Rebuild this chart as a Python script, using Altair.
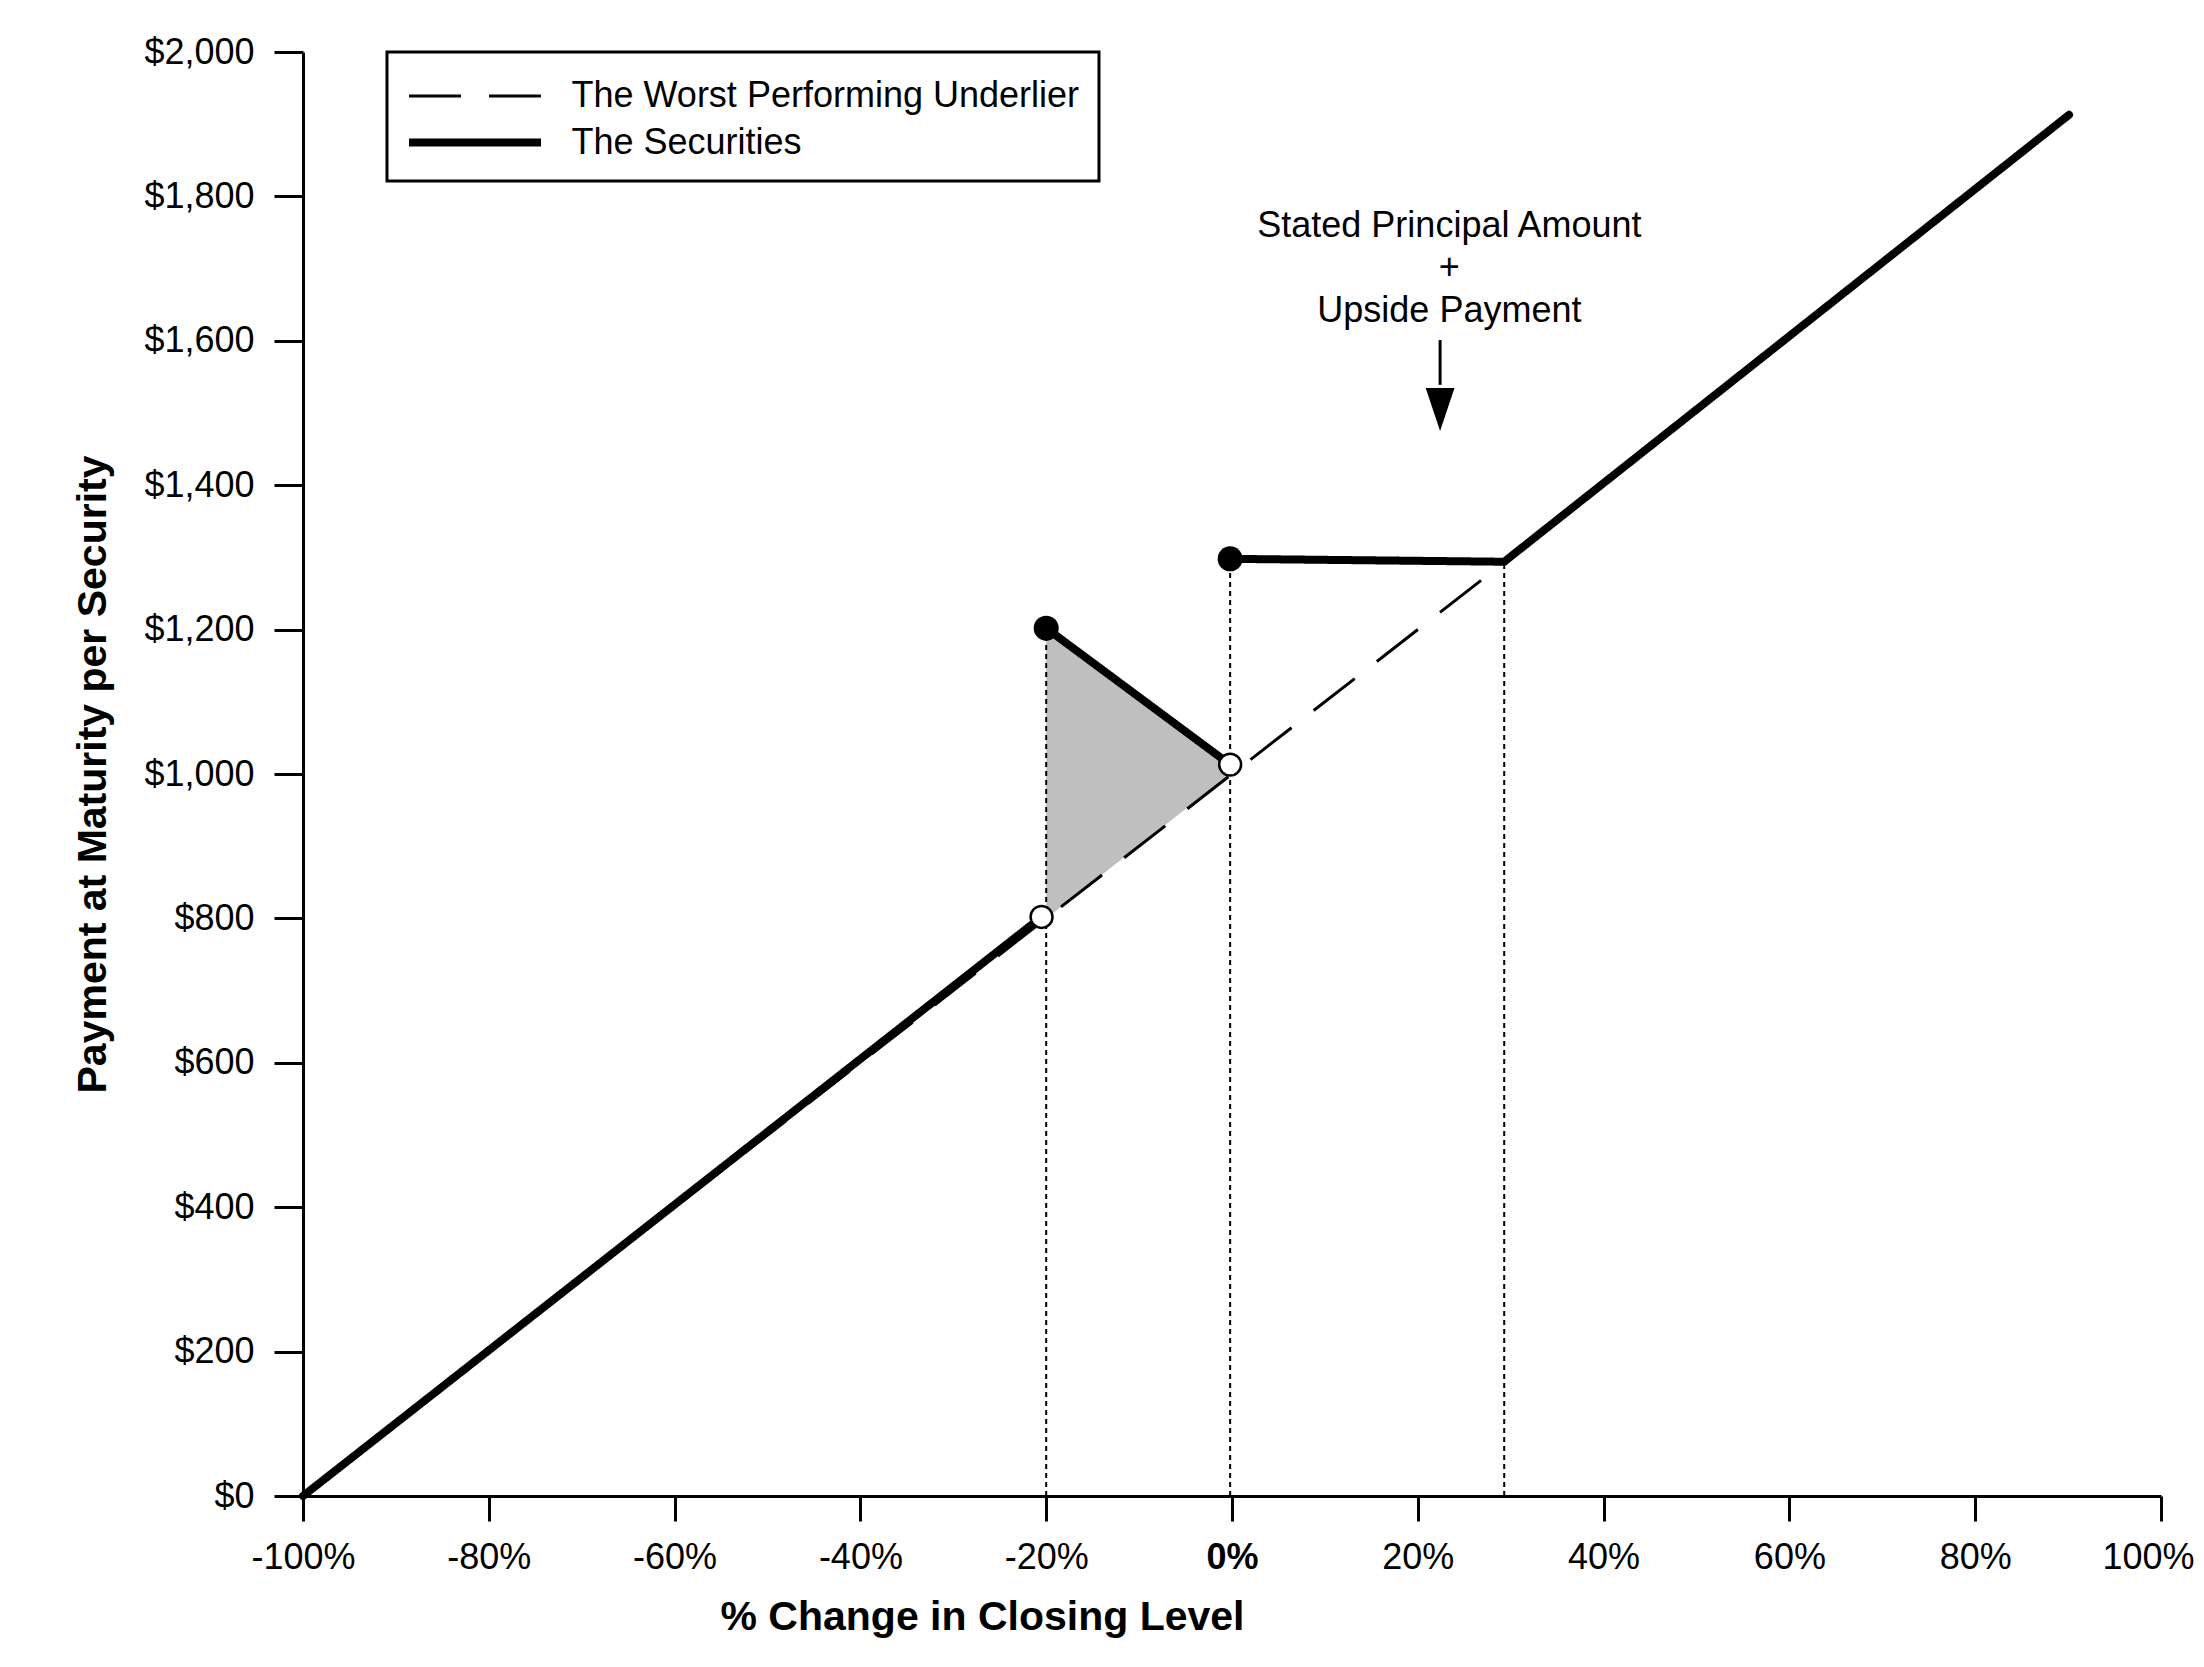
import altair as alt
import pandas as pd

FONT = "Liberation Sans"

# ---- axis ticks ----
x_ticks = [-100, -80, -60, -40, -20, 0, 20, 40, 60, 80, 100]
y_ticks = [0, 200, 400, 600, 800, 1000, 1200, 1400, 1600, 1800, 2000]

series_names = ["The Worst Performing Underlier", "The Securities"]

# ---- The Worst Performing Underlier (dashed) ----
under_x = [-100, 29.3]
under_y = [0, 1293]

# ---- The Securities (solid, piecewise) ----
sec_x = [-100, -20.5, -20, -0.2, -0.2, 29.3, 90.1]
sec_y = [0, 802, 1202, 1013, 1298, 1294, 1913]
sec_seg = [1, 1, 2, 2, 3, 3, 3]

# ---- markers ----
filled_x = [-20, -0.2]
filled_y = [1202, 1298]
open_x = [-20.5, -0.2]
open_y = [802, 1013]

# ---- shaded triangle ----
shade_x = [-20, -0.2]
shade_top = [1202, 1010]
shade_bottom = [800, 1000]

# ---- dotted guides ----
guide_x = [-20, -0.2, 29.3]
guide_top = [1202, 1298, 1294]

# ---- annotation ----
note_lines = ["Stated Principal Amount", "+", "Upside Payment"]
note_x = [23.4, 23.4, 23.4]
note_y = [1744, 1685, 1626]
arrow_x = [22.4]
arrow_top = [1601]
arrow_shaft_end = [1539]
arrow_head = [1505]

under_df = pd.DataFrame({"x": under_x, "y": under_y,
                         "series": series_names[0], "seg": 0})
sec_df = pd.DataFrame({"x": sec_x, "y": sec_y,
                       "series": series_names[1], "seg": sec_seg})
filled_df = pd.DataFrame({"x": filled_x, "y": filled_y})
open_df = pd.DataFrame({"x": open_x, "y": open_y})
shade_df = pd.DataFrame({"x": shade_x, "top": shade_top, "bottom": shade_bottom})
guide_df = pd.DataFrame({"x": guide_x, "top": guide_top, "base": [0] * len(guide_x)})
note_df = pd.DataFrame({"x": note_x, "y": note_y, "t": note_lines})
arrow_df = pd.DataFrame({"x": arrow_x, "top": arrow_top,
                         "end": arrow_shaft_end, "head": arrow_head})

xscale = alt.Scale(domain=[-100, 100], nice=False, zero=False)
yscale = alt.Scale(domain=[0, 2000], nice=False)

x_axis = alt.Axis(
    values=x_ticks, labelExpr="datum.value + '%'", grid=False,
    tickSize=25, tickWidth=3, domainWidth=3, tickColor="black", domainColor="black",
    labelPadding=19, labelFontSize=36, labelFont=FONT, labelColor="black",
    labelFontWeight={"condition": {"test": "datum.value === 0", "value": "bold"}, "value": "normal"},
    labelOffset={"condition": {"test": "datum.value === 100", "value": -13}, "value": 0},
    labelFlush=False, labelOverlap=False,
    title="% Change in Closing Level", titleFont=FONT, titleFontSize=41,
    titleFontWeight="bold", titleColor="black", titleX=679, titleY=101,
    titleAlign="center", titleBaseline="top", titleAnchor="start",
)
y_axis = alt.Axis(
    values=y_ticks, labelExpr="'$' + format(datum.value, ',')", grid=False,
    tickSize=29, tickWidth=3, domainWidth=3, tickColor="black", domainColor="black",
    labelPadding=20, labelFontSize=36, labelFont=FONT, labelColor="black",
    labelFlush=False, labelOverlap=False,
    title="Payment at Maturity per Security", titleFont=FONT, titleFontSize=41,
    titleFontWeight="bold", titleColor="black", titleX=-198, titleY=722,
    titleAngle=270, titleAlign="center", titleBaseline="alphabetic", titleAnchor="start",
)

X = alt.X("x:Q", scale=xscale, axis=x_axis)
Y = alt.Y("y:Q", scale=yscale, axis=y_axis)

leg = alt.Legend(
    title=None, orient="none", legendX=84, legendY=0,
    symbolType="M-2.933,0L2.933,0", symbolSize=2025, symbolOffset=41.5,
    labelOffset=70, padding=20, rowPadding=2,
    labelFont=FONT, labelFontSize=36, labelColor="black", labelLimit=0,
    strokeColor="black", fillColor="white",
)

color_enc = alt.Color("series:N", scale=alt.Scale(domain=series_names, range=["black", "black"]), legend=leg)
dash_enc = alt.StrokeDash("series:N", scale=alt.Scale(domain=series_names, range=[[52, 28], [1, 0]]), legend=leg)
width_enc = alt.StrokeWidth("series:N", scale=alt.Scale(domain=series_names, range=[3, 8]), legend=leg)

shade = alt.Chart(shade_df).mark_area(color="#bfbfbf", opacity=1).encode(
    x=X, y=alt.Y("top:Q", scale=yscale, axis=y_axis), y2="bottom:Q"
)
guides = alt.Chart(guide_df).mark_rule(color="black", strokeWidth=2, strokeDash=[5, 4]).encode(
    x=alt.X("x:Q", scale=xscale, axis=x_axis),
    y=alt.Y("base:Q", scale=yscale, axis=y_axis), y2="top:Q"
)
under = alt.Chart(under_df).mark_line(strokeCap="butt").encode(
    x=X, y=Y, color=color_enc, strokeDash=dash_enc, strokeWidth=width_enc, detail="seg:N"
)
sec = alt.Chart(sec_df).mark_line(strokeCap="round", strokeJoin="miter").encode(
    x=X, y=Y, color=color_enc, strokeDash=dash_enc, strokeWidth=width_enc, detail="seg:N",
    order="seg:Q"
)
opens = alt.Chart(open_df).mark_point(
    shape="circle", filled=True, fill="white", stroke="black", strokeWidth=2.5, size=480, opacity=1
).encode(x=X, y=Y)
filleds = alt.Chart(filled_df).mark_point(
    shape="circle", filled=True, color="black", size=625, opacity=1
).encode(x=X, y=Y)
notes = alt.Chart(note_df).mark_text(
    font=FONT, fontSize=36, color="black", align="center", baseline="alphabetic"
).encode(x=X, y=Y, text="t:N")
shaft = alt.Chart(arrow_df).mark_rule(color="black", strokeWidth=3).encode(
    x=alt.X("x:Q", scale=xscale, axis=x_axis),
    y=alt.Y("top:Q", scale=yscale, axis=y_axis), y2="end:Q"
)
head = alt.Chart(arrow_df).mark_point(
    shape="M-0.67,-1L0.67,-1L0,1Z", filled=True, color="black", size=1849, opacity=1, strokeWidth=0
).encode(x=alt.X("x:Q", scale=xscale, axis=x_axis),
         y=alt.Y("head:Q", scale=yscale, axis=y_axis))

chart = (
    alt.layer(shade, guides, under, sec, opens, filleds, notes, shaft, head)
    .properties(
        width=1858, height=1444,
        autosize=alt.AutoSizeParams(type="none"),
        padding={"left": 295, "top": 44, "right": 35, "bottom": 150},
        background="white",
    )
    .configure(font=FONT)
    .configure_view(stroke="transparent", strokeWidth=0)
    .configure_legend(strokeWidth=3)
)

chart.save("out.html", embed_options={"renderer": "svg", "actions": False})
